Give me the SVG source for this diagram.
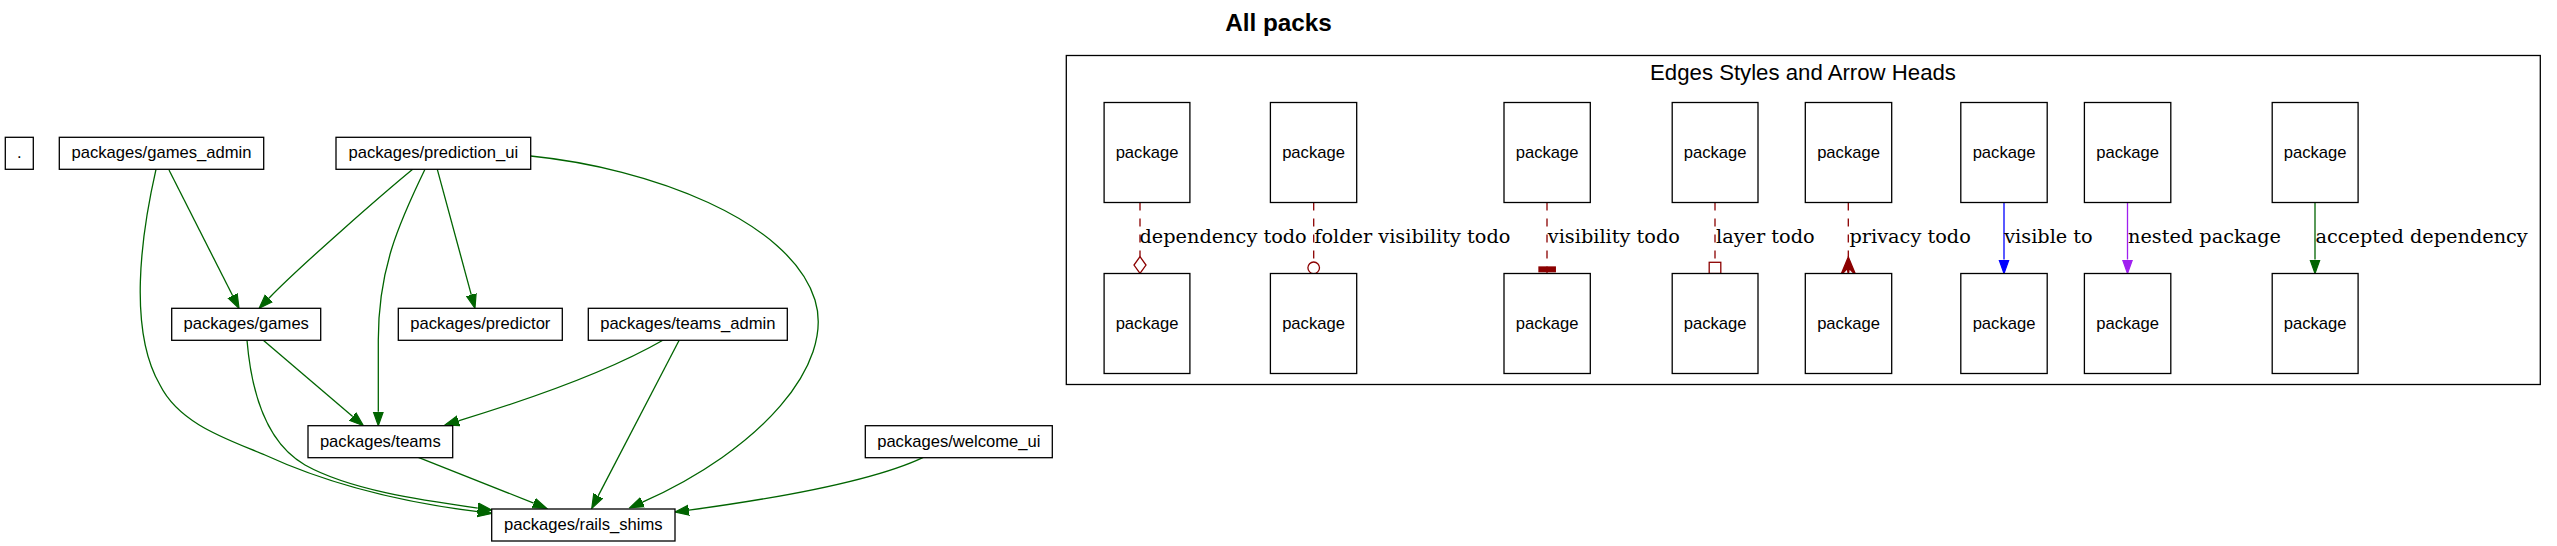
<svg xmlns="http://www.w3.org/2000/svg" width="2557" height="546" viewBox="0 0 2557 546">
<style>
.nb{fill:#fff;stroke:#000;stroke-width:1.3}
.nt{font-family:"Liberation Sans",Arial,sans-serif;font-size:16.6px;text-anchor:middle;fill:#000}
.el{font-family:"DejaVu Serif","Liberation Serif",serif;font-size:19.3px;fill:#000}
.g{fill:none;stroke:#006400;stroke-width:1.3}
.red{fill:none;stroke:#8b0000;stroke-width:1.3;stroke-dasharray:8,8}
.redh{stroke:#8b0000;stroke-width:1.3}
</style>
<defs>
<marker id="ag" viewBox="0 -6 15 12" markerWidth="15" markerHeight="12" refX="0" refY="0" orient="auto" markerUnits="userSpaceOnUse"><path d="M0,-5 L14,0 L0,5 Z" fill="#006400" stroke="#006400" stroke-width="1.2"/></marker>
<marker id="ab" viewBox="0 -6 15 12" markerWidth="15" markerHeight="12" refX="0" refY="0" orient="auto" markerUnits="userSpaceOnUse"><path d="M0,-5 L14,0 L0,5 Z" fill="#0000ff" stroke="#0000ff" stroke-width="1.2"/></marker>
<marker id="ap" viewBox="0 -6 15 12" markerWidth="15" markerHeight="12" refX="0" refY="0" orient="auto" markerUnits="userSpaceOnUse"><path d="M0,-5 L14,0 L0,5 Z" fill="#a020f0" stroke="#a020f0" stroke-width="1.2"/></marker>
</defs>
<rect width="2557" height="546" fill="#fff"/>
<text x="1278.5" y="30.7" font-family="Liberation Sans,Arial,sans-serif" font-size="24.3" font-weight="bold" text-anchor="middle">All packs</text>

<g id="cluster_legend">
<rect x="1066.3" y="55.5" width="1474" height="329" fill="none" stroke="#000" stroke-width="1.3"/>
<text x="1803" y="79.5" font-family="Liberation Sans,Arial,sans-serif" font-size="22.2" text-anchor="middle">Edges Styles and Arrow Heads</text>
</g>

<g id="connectors">
<path class="g" marker-end="url(#ag)" d="M169,170 L232.7,295.8"/>
<path class="g" marker-end="url(#ag)" d="M412.7,169.3 C385,192 300,266 268.9,298.2"/>
<path class="g" marker-end="url(#ag)" d="M425,169.3 C398,225 378.3,270 378.3,340 L378.3,411.7"/>
<path class="g" marker-end="url(#ag)" d="M437.3,169.3 L471.3,294.8"/>
<path class="g" marker-end="url(#ag)" d="M156,169.3 C141,235 128,330 160,385 C180,425 230,440 265,455 C330,485 400,502 477.9,511.7"/>
<path class="g" marker-end="url(#ag)" d="M247,340.3 C252,400 270,445 305,465 C350,490 420,500 477.8,508.1"/>
<path class="g" marker-end="url(#ag)" d="M263.3,340.3 L352.7,416.6"/>
<path class="g" marker-end="url(#ag)" d="M663.3,340 C620,365 560,390 458.4,420.8"/>
<path class="g" marker-end="url(#ag)" d="M679.3,340 L598.2,495.9"/>
<path class="g" marker-end="url(#ag)" d="M530.7,156 C650,168 790,220 815,300 C835,365 760,450 642.5,502.1"/>
<path class="g" marker-end="url(#ag)" d="M418.3,457.3 L533.7,503.1"/>
<path class="g" marker-end="url(#ag)" d="M923.3,457.3 C880,478 800,495 688.8,510.2"/>

<path class="red" d="M1140,202.5 L1140,256.7"/>
<path class="redh" fill="none" d="M1140,256.7 L1146,265.1 L1140,273.5 L1134,265.1 Z"/>
<path class="red" d="M1313.7,202.5 L1313.7,262"/>
<circle class="redh" fill="none" cx="1313.7" cy="267.8" r="5.8"/>
<path class="red" d="M1547,202.5 L1547,267"/>
<rect class="redh" fill="#8b0000" x="1539" y="267" width="16.3" height="4.7"/>
<path class="redh" d="M1547,271.7 L1547,273.5"/>
<path class="red" d="M1715,202.5 L1715,262.3"/>
<rect class="redh" fill="none" x="1709.2" y="262.3" width="11.6" height="11.2"/>
<path class="red" d="M1848.3,202.5 L1848.3,257"/>
<path class="redh" fill="#8b0000" d="M1848.3,257 L1856,275.5 L1849.3,268.5 L1848.3,274.5 L1847.3,268.5 L1840.6,275.5 Z"/>
<path fill="none" stroke="#0000ff" stroke-width="1.3" marker-end="url(#ab)" d="M2004,202.5 L2004,259.5"/>
<path fill="none" stroke="#a020f0" stroke-width="1.3" marker-end="url(#ap)" d="M2127.5,202.5 L2127.5,259.5"/>
<path class="g" marker-end="url(#ag)" d="M2315,202.5 L2315,259.5"/>

<text class="el" x="1139.5" y="243.3">dependency todo</text>
<text class="el" x="1314.3" y="243.3">folder visibility todo</text>
<text class="el" x="1547.8" y="243.3">visibility todo</text>
<text class="el" x="1716" y="243.3">layer todo</text>
<text class="el" x="1849.5" y="243.3">privacy todo</text>
<text class="el" x="2004.2" y="243.3">visible to</text>
<text class="el" x="2128" y="243.3">nested package</text>
<text class="el" x="2315.5" y="243.3">accepted dependency</text>
</g>

<g id="node_root"><rect class="nb" x="5.3" y="137.3" width="28" height="32"/><text class="nt" x="19.3" y="158.1">.</text></g>
<g id="node_games_admin"><rect class="nb" x="59.3" y="137.3" width="204.4" height="32"/><text class="nt" x="161.5" y="158.1">packages/games_admin</text></g>
<g id="node_prediction_ui"><rect class="nb" x="336" y="137.3" width="194.7" height="32"/><text class="nt" x="433.3" y="158.1">packages/prediction_ui</text></g>
<g id="node_games"><rect class="nb" x="171.7" y="308.3" width="149" height="32"/><text class="nt" x="246.2" y="329.1">packages/games</text></g>
<g id="node_predictor"><rect class="nb" x="398.3" y="308.3" width="164" height="32"/><text class="nt" x="480.3" y="329.1">packages/predictor</text></g>
<g id="node_teams_admin"><rect class="nb" x="588.3" y="308.3" width="199" height="32"/><text class="nt" x="687.8" y="329.1">packages/teams_admin</text></g>
<g id="node_teams"><rect class="nb" x="308" y="425.7" width="144.7" height="32"/><text class="nt" x="380.3" y="446.5">packages/teams</text></g>
<g id="node_welcome_ui"><rect class="nb" x="865.3" y="425.7" width="187" height="32"/><text class="nt" x="958.8" y="446.5">packages/welcome_ui</text></g>
<g id="node_rails_shims"><rect class="nb" x="491.7" y="509" width="183.3" height="32"/><text class="nt" x="583.3" y="529.8">packages/rails_shims</text></g>

<g id="legend_t1"><rect class="nb" x="1104.1" y="102.5" width="85.8" height="100"/><text class="nt" x="1147" y="157.8">package</text></g>
<g id="legend_t2"><rect class="nb" x="1270.4" y="102.5" width="86.3" height="100"/><text class="nt" x="1313.5" y="157.8">package</text></g>
<g id="legend_t3"><rect class="nb" x="1504" y="102.5" width="86.3" height="100"/><text class="nt" x="1547.1" y="157.8">package</text></g>
<g id="legend_t4"><rect class="nb" x="1672.2" y="102.5" width="85.8" height="100"/><text class="nt" x="1715.1" y="157.8">package</text></g>
<g id="legend_t5"><rect class="nb" x="1805.3" y="102.5" width="86.4" height="100"/><text class="nt" x="1848.5" y="157.8">package</text></g>
<g id="legend_t6"><rect class="nb" x="1960.8" y="102.5" width="86.4" height="100"/><text class="nt" x="2004" y="157.8">package</text></g>
<g id="legend_t7"><rect class="nb" x="2084.4" y="102.5" width="86.4" height="100"/><text class="nt" x="2127.6" y="157.8">package</text></g>
<g id="legend_t8"><rect class="nb" x="2272.2" y="102.5" width="85.9" height="100"/><text class="nt" x="2315.1" y="157.8">package</text></g>
<g id="legend_b1"><rect class="nb" x="1104.1" y="273.5" width="85.8" height="100"/><text class="nt" x="1147" y="328.8">package</text></g>
<g id="legend_b2"><rect class="nb" x="1270.4" y="273.5" width="86.3" height="100"/><text class="nt" x="1313.5" y="328.8">package</text></g>
<g id="legend_b3"><rect class="nb" x="1504" y="273.5" width="86.3" height="100"/><text class="nt" x="1547.1" y="328.8">package</text></g>
<g id="legend_b4"><rect class="nb" x="1672.2" y="273.5" width="85.8" height="100"/><text class="nt" x="1715.1" y="328.8">package</text></g>
<g id="legend_b5"><rect class="nb" x="1805.3" y="273.5" width="86.4" height="100"/><text class="nt" x="1848.5" y="328.8">package</text></g>
<g id="legend_b6"><rect class="nb" x="1960.8" y="273.5" width="86.4" height="100"/><text class="nt" x="2004" y="328.8">package</text></g>
<g id="legend_b7"><rect class="nb" x="2084.4" y="273.5" width="86.4" height="100"/><text class="nt" x="2127.6" y="328.8">package</text></g>
<g id="legend_b8"><rect class="nb" x="2272.2" y="273.5" width="85.9" height="100"/><text class="nt" x="2315.1" y="328.8">package</text></g>
</svg>
